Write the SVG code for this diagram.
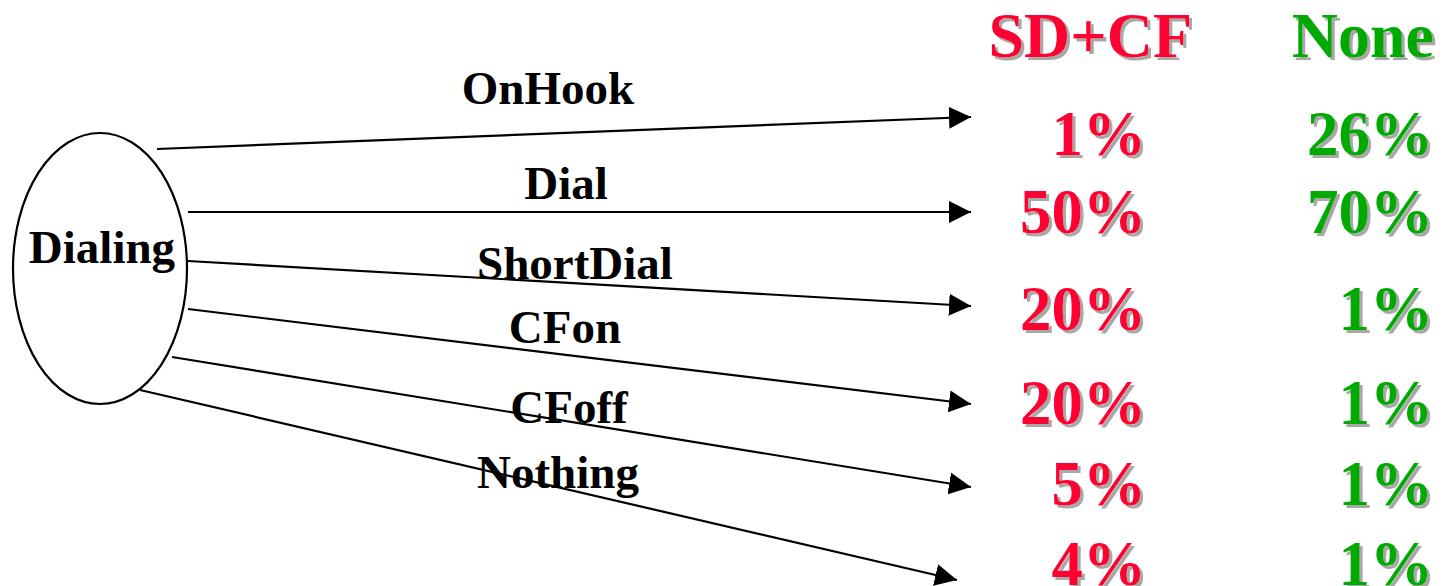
<svg xmlns="http://www.w3.org/2000/svg" width="1442" height="586" viewBox="0 0 1442 586">
  <defs>
    <marker id="arrow" viewBox="0 0 22 22" refX="22" refY="11" markerWidth="22" markerHeight="22" markerUnits="userSpaceOnUse" orient="auto">
      <path d="M0,0 L22,11 L0,22 Z" fill="#000"/>
    </marker>
    <filter id="shadow" x="-10%" y="-10%" width="130%" height="130%">
      <feDropShadow dx="3" dy="3" stdDeviation="0.6" flood-color="#a8a8a8" flood-opacity="1"/>
    </filter>
  </defs>
  <style>
    .lbl { font-family: "Liberation Serif", "Times New Roman", serif; font-weight: bold; font-size: 47px; fill: #000; text-anchor: middle; }
    .edge { stroke: #000; stroke-width: 2.2; fill: none; marker-end: url(#arrow); }
    .head { font-family: "Liberation Serif", "Times New Roman", serif; font-weight: bold; font-size: 64px; text-anchor: end; filter: url(#shadow); }
    .pct { font-family: "Liberation Serif", "Times New Roman", serif; font-weight: bold; font-size: 63px; text-anchor: end; filter: url(#shadow); }
    .red { fill: #ff0033; }
    .green { fill: #00aa00; }
  </style>
  <rect width="1442" height="586" fill="#fff"/>

  <!-- transitions out of the Dialing state -->
  <g id="connectors">
    <line class="edge" x1="157" y1="149" x2="971" y2="117"/>
    <line class="edge" x1="188" y1="212" x2="971" y2="212"/>
    <line class="edge" x1="188" y1="261" x2="971" y2="306"/>
    <line class="edge" x1="188" y1="309" x2="971" y2="404"/>
    <line class="edge" x1="172" y1="357" x2="971" y2="487"/>
    <line class="edge" x1="140" y1="390" x2="957" y2="580"/>
  </g>

  <g id="edge-labels">
    <text class="lbl" x="548" y="104">OnHook</text>
    <text class="lbl" x="566" y="199">Dial</text>
    <text class="lbl" x="575" y="279">ShortDial</text>
    <text class="lbl" x="565" y="343">CFon</text>
    <text class="lbl" x="569" y="423">CFoff</text>
    <text class="lbl" x="558" y="488">Nothing</text>
  </g>

  <g id="node-dialing">
    <ellipse cx="100" cy="268.5" rx="87" ry="135.5" fill="#fff" stroke="#000" stroke-width="2.2"/>
    <text class="lbl" x="102" y="263">Dialing</text>
  </g>

  <g id="col-sdcf">
    <text class="head red" x="1192" y="57">SD+CF</text>
    <text class="pct red" x="1146" y="155">1%</text>
    <text class="pct red" x="1146" y="233">50%</text>
    <text class="pct red" x="1146" y="330">20%</text>
    <text class="pct red" x="1146" y="424">20%</text>
    <text class="pct red" x="1146" y="505">5%</text>
    <text class="pct red" x="1146" y="585">4%</text>
  </g>

  <g id="col-none">
    <text class="head green" x="1434" y="57">None</text>
    <text class="pct green" x="1433" y="155">26%</text>
    <text class="pct green" x="1433" y="233">70%</text>
    <text class="pct green" x="1433" y="330">1%</text>
    <text class="pct green" x="1433" y="424">1%</text>
    <text class="pct green" x="1433" y="505">1%</text>
    <text class="pct green" x="1433" y="585">1%</text>
  </g>
</svg>
